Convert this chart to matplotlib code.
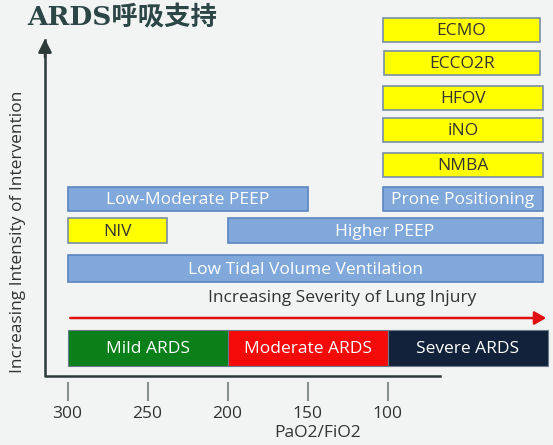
import matplotlib

matplotlib.use("Agg")
import matplotlib.pyplot as plt
from matplotlib.patches import Rectangle, FancyArrowPatch

# PaO2/FiO2 ranges (start, end) and vertical slot (pixel rows top, bottom)
interventions = ["ECMO", "ECCO2R", "HFOV", "iNO", "NMBA", "Prone Positioning",
                 "Low-Moderate PEEP", "NIV", "Higher PEEP", "Low Tidal Volume Ventilation"]
starts = [103, 102, 103, 103, 103, 103, 300, 300, 200, 300]
ends = [5, 5, 3, 3, 3, 3, 150, 238, 3, 3]
rows = [(18, 42), (51, 75), (86, 110), (118, 142), (153, 177), (187, 211),
        (187, 211), (218, 243), (218, 243), (255, 282)]
kinds = ["y", "y", "y", "y", "y", "b", "b", "y", "b", "b"]

severity = ["Mild ARDS", "Moderate ARDS", "Severe ARDS"]
sev_start = [300, 200, 100]
sev_end = [200, 100, 0]
sev_colors = ["#0a7f1a", "#f50a0a", "#12223a"]

ticks = [300, 250, 200, 150, 100]

PX = 1.6
X0 = 300 + 67.5 / PX


def xd(px):
    return X0 - px / PX


fig = plt.figure(figsize=(5.53, 4.45), dpi=100)
fig.patch.set_facecolor("#f2f3f3")
ax = fig.add_axes([0, 0, 1, 1])
ax.set_xlim(xd(0), xd(553))
ax.set_ylim(445, 0)
ax.axis("off")

font = ["Open Sans", "DejaVu Sans"]
fs = 12.5

for name, s, e, (t, b), k in zip(interventions, starts, ends, rows, kinds):
    if k == "y":
        fc, ec, tc = "#ffff00", "#7a8fa8", "#333333"
    else:
        fc, ec, tc = "#80a8da", "#5a86c0", "white"
    ax.add_patch(Rectangle((s, t), e - s, b - t, facecolor=fc, edgecolor=ec, lw=1.2))
    ax.text((s + e) / 2, (t + b) / 2 + 1, name, ha="center", va="center",
            fontsize=fs, color=tc, family=font)

for name, s, e, c in zip(severity, sev_start, sev_end, sev_colors):
    ax.add_patch(Rectangle((s, 330), e - s, 36, facecolor=c, edgecolor="#6a7a8a", lw=0.8))
    ax.text((s + e) / 2, 349, name, ha="center", va="center",
            fontsize=fs, color="white", family=font)

ax.text(xd(342), 298, "Increasing Severity of Lung Injury", ha="center", va="center",
        fontsize=fs, color="#333333", family=font)
ax.add_patch(FancyArrowPatch((300, 318), (xd(549), 318), arrowstyle="-|>,head_length=7,head_width=4",
                             color="#e01010", lw=1.8, mutation_scale=1))

# axes
ax.plot([xd(45), xd(45), xd(440)], [40, 376, 376], color="#2e3a3a", lw=1.8)
ax.add_patch(FancyArrowPatch((xd(45), 60), (xd(45), 36), arrowstyle="-|>,head_length=8,head_width=4",
                             color="#2e3a3a", lw=1.8))
for tk in ticks:
    ax.plot([tk, tk], [383, 400], color="#8a9090", lw=1.5)
    ax.text(tk, 414, str(tk), ha="center", va="center", fontsize=fs, color="#333333", family=font)
ax.text(xd(318), 433, "PaO2/FiO2", ha="center", va="center", fontsize=fs,
        color="#333333", family=font)
ax.text(xd(18), 232, "Increasing Intensity of Intervention", ha="center", va="center",
        rotation=90, fontsize=fs, color="#333333", family=font)

ax.text(xd(27), 18, "ARDS呼吸支持", ha="left", va="center", fontsize=19, fontweight="bold",
        color="#2c4646", family=["DejaVu Serif", "Noto Sans CJK SC"])

fig.savefig("out.png", dpi=100, facecolor=fig.get_facecolor())
